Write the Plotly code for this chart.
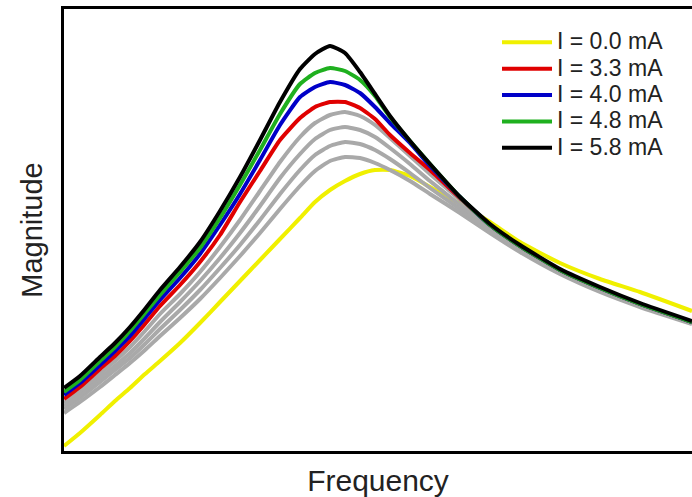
import plotly.graph_objects as go

# Frequency (arbitrary units) shared by all traces
freq = [0, 16, 36, 51, 66, 81, 96, 116, 136, 156, 176, 196, 216, 236, 251, 266,
        281, 296, 311, 326, 346, 366, 396, 426, 456, 496, 536, 576, 628]

# Magnitude (arbitrary units) for each drive current
mag_0_0 = [5, 18, 36, 50, 63, 77, 90, 108, 128, 149, 170, 191, 212, 233, 249, 261,
           270, 277, 281, 281, 275, 264, 247, 229, 209, 188, 172, 159, 140]
mag_gray_a = [38, 49, 64, 76, 88, 101, 115, 133, 152, 173, 195, 218, 242, 265, 280, 290,
              294, 293, 288, 281, 270, 257, 238, 218, 199, 177, 159, 144, 127]
mag_gray_b = [42, 53, 69, 81, 93, 107, 122, 141, 161, 183, 206, 231, 257, 281, 296, 305,
              309, 307, 301, 292, 278, 263, 242, 220, 201, 178, 160, 145, 128]
mag_gray_c = [45, 56, 73, 85, 98, 113, 129, 149, 170, 193, 218, 245, 273, 297, 312, 321,
              324, 321, 314, 303, 287, 270, 246, 222, 202, 179, 161, 145, 128]
mag_gray_d = [48, 60, 77, 90, 104, 120, 137, 157, 179, 204, 231, 260, 289, 314, 328, 336,
              339, 335, 326, 313, 295, 277, 251, 225, 204, 180, 162, 146, 128]
mag_3_3 = [52, 64, 82, 95, 110, 127, 145, 166, 189, 216, 249, 280, 311, 333, 344, 349,
           349, 343, 332, 316, 298, 281, 253, 226, 205, 181, 163, 147, 129]
mag_4_0 = [56, 68, 86, 100, 115, 133, 151, 173, 197, 226, 257, 291, 326, 354, 364, 369,
           366, 358, 344, 328, 308, 285, 254, 226, 205, 181, 163, 147, 129]
mag_4_8 = [59, 71, 90, 104, 120, 138, 156, 179, 203, 233, 266, 301, 337, 367, 378, 383,
           380, 371, 355, 334, 310, 287, 254, 226, 205, 181, 163, 147, 129]
mag_5_8 = [63, 75, 94, 108, 124, 142, 161, 184, 209, 240, 274, 311, 349, 382, 397, 405,
           398, 379, 357, 335, 310, 287, 254, 227, 206, 182, 164, 148, 130]

labels = ["I = 0.0 mA", "I = 3.3 mA", "I = 4.0 mA", "I = 4.8 mA", "I = 5.8 mA"]

fig = go.Figure()

def add(y, color, name=None, show=False, width=4):
    fig.add_trace(go.Scatter(
        x=freq, y=y, mode="lines",
        name=('<span style="font-size:23px">%s</span>' % name) if name else None,
        showlegend=show,
        line=dict(color=color, width=width, shape="spline", smoothing=0.5)))

add(mag_0_0, "#f0f000", labels[0], True)
for g in [mag_gray_a, mag_gray_b, mag_gray_c, mag_gray_d]:
    add(g, "#a9a9a9")
add(mag_3_3, "#e00000", labels[1], True)
add(mag_4_0, "#0000c8", labels[2], True)
add(mag_4_8, "#1fb01f", labels[3], True)
add(mag_5_8, "#000000", labels[4], True)

fig.update_layout(
    width=692, height=497,
    margin=dict(l=64, r=0, t=9, b=46),
    paper_bgcolor="white", plot_bgcolor="white",
    font=dict(family="Liberation Sans, Arial, sans-serif", color="#222222"),
    legend=dict(x=0.6895, y=0.966, xanchor="left", yanchor="top",
                bgcolor="rgba(0,0,0,0)", font=dict(size=18, color="#222222"),
                tracegroupgap=0, itemwidth=50),
)
fig.update_xaxes(range=[0, 628], showline=True, linewidth=3, linecolor="black",
                 mirror=True, showgrid=False, zeroline=False, showticklabels=False,
                 ticks="", title=dict(text="Frequency", font=dict(size=30), standoff=18))
fig.update_yaxes(range=[0, 442], showline=True, linewidth=3, linecolor="black",
                 mirror=False, showgrid=False, zeroline=False, showticklabels=False,
                 ticks="", title=dict(text="Magnitude", font=dict(size=29), standoff=10))

fig.write_html("out.html")
